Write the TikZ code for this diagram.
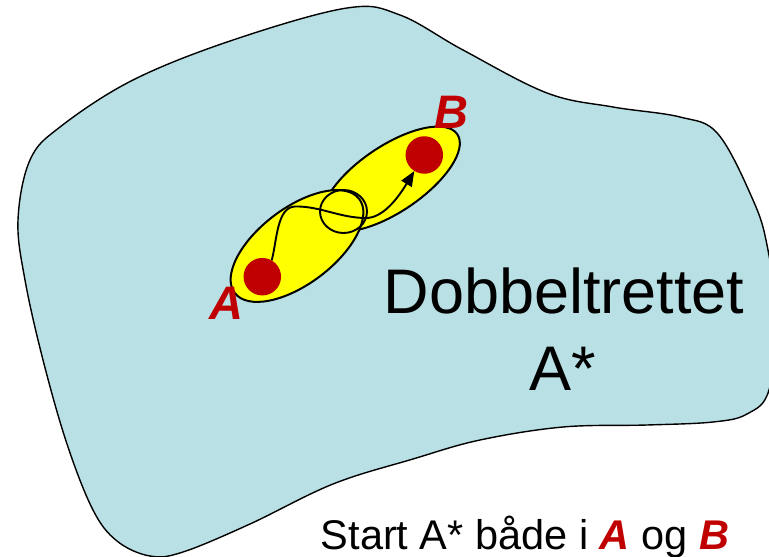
\documentclass[tikz,border=0pt]{standalone}
\usepackage{fontspec}
\setmainfont{Liberation Sans}
\usetikzlibrary{arrows.meta}
\definecolor{blobfill}{RGB}{185,224,228}
\definecolor{ptred}{RGB}{192,0,0}
\definecolor{ellfill}{RGB}{255,255,0}
\begin{document}
\begin{tikzpicture}[x=1pt,y=-1pt,
  blob/.style={fill=blobfill, draw=black, line width=1.4pt},
  ell/.style={fill=ellfill, draw=black, line width=2pt},
  pt/.style={circle, fill=ptred, minimum size=37.5pt, inner sep=0pt},
  conn/.style={draw=black, line width=1.9pt},
  lbl/.style={text=ptred, font=\fontsize{47}{50}\selectfont\bfseries\itshape, inner sep=0pt},
  big/.style={font=\fontsize{63}{70}\selectfont, inner sep=0pt},
  caption/.style={font=\fontsize{41.5}{46}\selectfont, inner sep=0pt}]
\useasboundingbox (0,0) rectangle (769,557);
\clip (0,0) rectangle (769,557);
% region
\draw[blob] plot[smooth cycle, tension=0.6] coordinates {
  (347,8) (400,15) (463,50) (547,93) (613,107) (680,117) (718,134)
  (753,200) (767,245) (776,315) (769,390) (747,414) (713,422) (647,425)
  (563,427) (480,440) (413,459) (333,484) (250,524) (183,552) (150,556)
  (117,541) (93,510) (67,444) (43,360) (25,280) (18,220) (30,160) (60,127)
  (133,80) (233,40)};
% search ellipses
\draw[ell, rotate around={34:(391,179)}] (391,179) ellipse [x radius=80, y radius=33];
\draw[ell, rotate around={37:(297,246)}] (297,246) ellipse [x radius=78, y radius=38];
% points
\node[pt] (ptA) at (262.3,276.7) {};
\node[pt] (ptB) at (424.3,155) {};
% path
\draw[conn, -{Triangle[length=15pt,width=12pt]}] (ptA.60)
  .. controls (277,240) and (277,207) .. (295,206.5)
  .. controls (320,206) and (340,218) .. (366,218)
  .. controls (383,218) and (398,198) .. (ptB.238);
\draw[conn] (343.5,211.5) ellipse [x radius=23.5, y radius=21.5];
% labels
\node[lbl, anchor=base] (labA) at (226,319) {A};
\node[lbl, anchor=base] (labB) at (451,128) {B};
\node[big, anchor=base] (title1) at (564,313.5) {Dobbeltrettet};
\node[big, anchor=base] (title2) at (563,390) {A*};
\node[caption, anchor=base] (cap) at (525,549) {Start A* både i \textcolor{ptred}{\bfseries\itshape A} og \textcolor{ptred}{\bfseries\itshape B}};
\end{tikzpicture}
\end{document}
